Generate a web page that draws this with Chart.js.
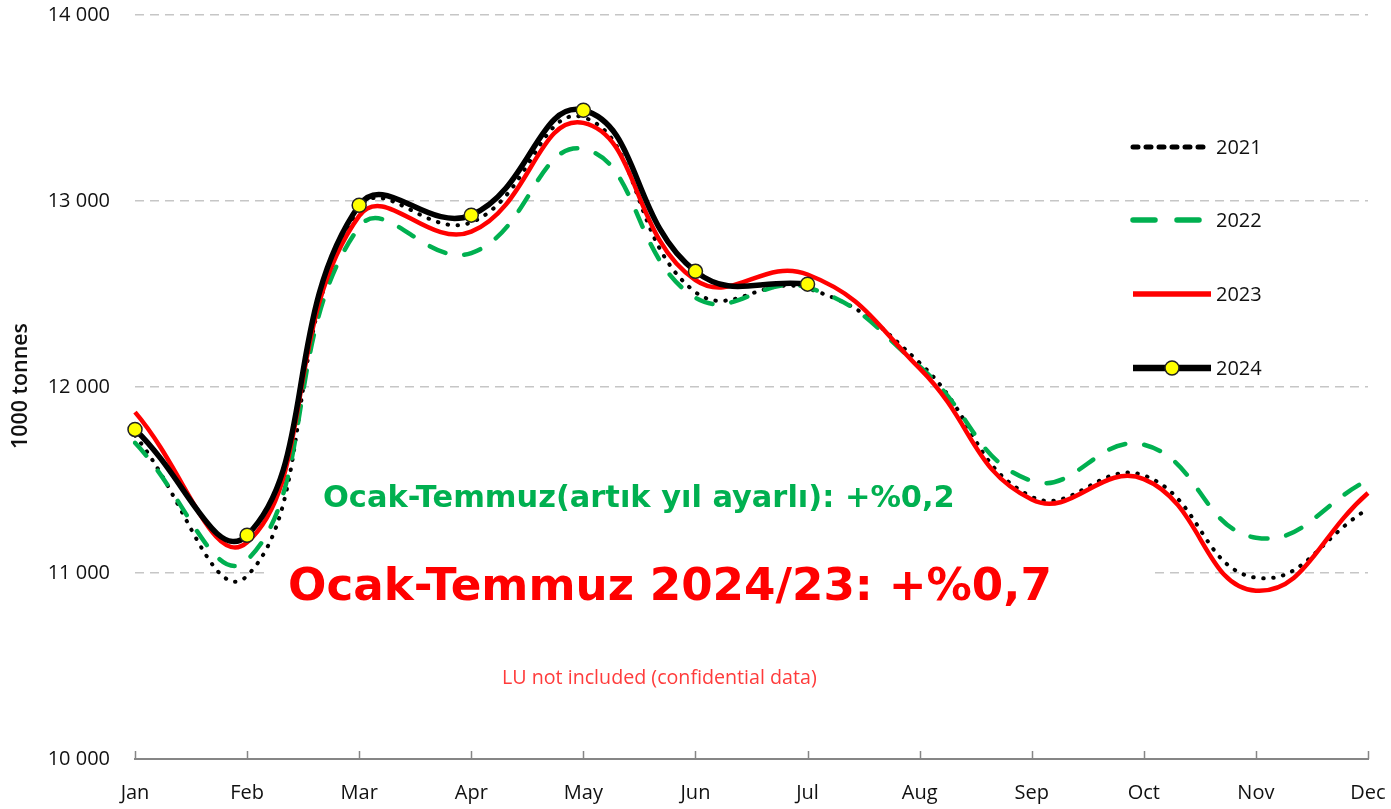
<!DOCTYPE html>
<html>
<head>
<meta charset="utf-8">
<script src="https://cdn.jsdelivr.net/npm/chart.js@4.4.1/dist/chart.umd.min.js"></script>
<style>
  html, body { margin: 0; padding: 0; background: #fff; }
  #wrap { width: 1391px; height: 809px; position: relative; }
</style>
</head>
<body>
<div id="wrap"><canvas id="chart"></canvas></div>
<script>
// Months on the x axis
const months = ['Jan', 'Feb', 'Mar', 'Apr', 'May', 'Jun', 'Jul', 'Aug', 'Sep', 'Oct', 'Nov', 'Dec'];
const years = ['2021', '2022', '2023', '2024'];

// Monthly values (1000 tonnes)
const v2021 = [11740, 10985, 12960, 12885, 13450, 12510, 12530, 12130, 11410, 11525, 10975, 11345];
const v2022 = [11700, 11070, 12860, 12720, 13280, 12480, 12535, 12110, 11495, 11690, 11190, 11500];
const v2023 = [11865, 11165, 12920, 12835, 13420, 12575, 12605, 12100, 11395, 11505, 10905, 11430];
const v2024 = [11772, 11203, 12977, 12924, 13488, 12622, 12553, null, null, null, null, null];

// Y axis
const yMin = 10000, yMax = 14000, yStep = 1000;
const yTitle = '1000 tonnes';

// Text notes
const noteGreen = 'Ocak-Temmuz(artık yıl ayarlı): +%0,2';
const noteRed = 'Ocak-Temmuz 2024/23: +%0,7';
const noteLU = 'LU not included (confidential data)';

const GREEN = '#00b050';
const RED = '#ff0000';
const tickFont = { family: 'Open Sans', size: 20 };

function fmt(v) {
    return String(v).replace(/\B(?=(\d{3})+(?!\d))/g, ' ');
}

// fit a text to a given width
function fitFont(ctx, text, weight, family, width) {
    ctx.font = weight + ' 20px ' + family;
    const w = ctx.measureText(text).width;
    return weight + ' ' + (20 * width / w).toFixed(2) + 'px ' + family;
}

const extras = {
    id: 'extras',
    beforeDatasetsDraw(chart) {
        // white box behind the big red note hides the grid line
        const ctx = chart.ctx;
        ctx.save();
        ctx.fillStyle = '#fff';
        ctx.fillRect(265, 558, 885, 52);
        ctx.restore();
    },
    afterDraw(chart) {
        const ctx = chart.ctx;
        const xs = chart.scales.x;
        const area = chart.chartArea;
        ctx.save();

        // small tick marks on the x axis (pointing up)
        ctx.strokeStyle = '#868686';
        ctx.lineWidth = 1.5;
        months.forEach((m, i) => {
            const x = Math.round(xs.getPixelForTick(i)) + 0.5;
            ctx.beginPath();
            ctx.moveTo(x, area.bottom - 8);
            ctx.lineTo(x, area.bottom);
            ctx.stroke();
        });

        // y axis title
        ctx.save();
        ctx.translate(21, 386);
        ctx.rotate(-Math.PI / 2);
        ctx.fillStyle = '#111';
        ctx.font = fitFont(ctx, yTitle, '600', '"Open Sans"', 126);
        ctx.textAlign = 'center';
        ctx.textBaseline = 'middle';
        ctx.fillText(yTitle, 0, 0);
        ctx.restore();

        // notes
        ctx.textAlign = 'left';
        ctx.textBaseline = 'alphabetic';
        ctx.fillStyle = GREEN;
        ctx.font = fitFont(ctx, noteGreen, 'bold', '"DejaVu Sans"', 632);
        ctx.fillText(noteGreen, 323, 507);
        ctx.fillStyle = RED;
        ctx.font = fitFont(ctx, noteRed, 'bold', '"DejaVu Sans"', 764);
        ctx.fillText(noteRed, 288, 600);
        ctx.fillStyle = '#ff3b3b';
        ctx.font = fitFont(ctx, noteLU, 'normal', '"Open Sans"', 315);
        ctx.fillText(noteLU, 502, 684);

        // legend
        const rows = [147, 220, 294, 368];
        const x0 = 1133, x1 = 1211;
        chart.data.datasets.forEach((ds, i) => {
            const y = rows[i];
            ctx.save();
            ctx.strokeStyle = ds.borderColor;
            ctx.lineWidth = ds.borderWidth + 1;
            ctx.lineCap = ds.borderCapStyle || 'butt';
            ctx.setLineDash(ds.legendDash || []);
            ctx.beginPath();
            ctx.moveTo(x0, y);
            ctx.lineTo(x1, y);
            ctx.stroke();
            ctx.restore();
            if (ds.pointRadius > 0) {
                ctx.beginPath();
                ctx.arc((x0 + x1) / 2, y, ds.pointRadius, 0, Math.PI * 2);
                ctx.fillStyle = ds.pointBackgroundColor;
                ctx.fill();
                ctx.lineWidth = ds.pointBorderWidth;
                ctx.strokeStyle = ds.pointBorderColor;
                ctx.stroke();
            }
            ctx.fillStyle = '#111';
            ctx.font = '20px "Open Sans"';
            ctx.textBaseline = 'middle';
            ctx.fillText(ds.label, 1216, y + 1);
        });
        ctx.restore();
    }
};

new Chart(document.getElementById('chart'), {
    type: 'line',
    data: {
        labels: months,
        datasets: [
            {
                label: years[0], data: v2021,
                borderColor: '#000', borderWidth: 4, borderDash: [0.5, 9.5], borderCapStyle: 'round',
                legendDash: [5, 8], pointRadius: 0, tension: 0.45, order: 4
            },
            {
                label: years[1], data: v2022,
                borderColor: GREEN, borderWidth: 4.5, borderDash: [17, 19], borderCapStyle: 'round',
                legendDash: [22, 22], pointRadius: 0, tension: 0.45, order: 3
            },
            {
                label: years[2], data: v2023,
                borderColor: RED, borderWidth: 4.5, pointRadius: 0, tension: 0.45, order: 2
            },
            {
                label: years[3], data: v2024,
                borderColor: '#000', borderWidth: 5.5, tension: 0.45, order: 1,
                pointRadius: 7, pointHoverRadius: 7,
                pointBackgroundColor: '#ffff00', pointBorderColor: '#222', pointBorderWidth: 1.5,
                spanGaps: false
            }
        ]
    },
    options: {
        responsive: true,
        maintainAspectRatio: false,
        animation: false,
        events: [],
        layout: { padding: { top: 15, right: 23, left: 0, bottom: 0 } },
        plugins: {
            legend: { display: false },
            tooltip: { enabled: false }
        },
        scales: {
            x: {
                offset: false,
                grid: { display: false, drawTicks: false },
                border: { display: true, color: '#868686', width: 2 },
                ticks: { color: '#111', font: tickFont, padding: 22, maxRotation: 0, autoSkip: false },
                afterFit(scale) {
                    scale.height = 50;
                    scale.paddingLeft = 0;
                    scale.paddingRight = 0;
                }
            },
            y: {
                min: yMin, max: yMax,
                grid: {
                    color: ctx => ctx.tick.value === yMin ? 'rgba(0,0,0,0)' : '#c6c6c6',
                    lineWidth: 1.5,
                    drawTicks: false
                },
                border: { display: false, dash: [9, 6] },
                ticks: {
                    stepSize: yStep, color: '#111', font: tickFont, padding: 25,
                    callback: v => fmt(v)
                },
                afterFit(scale) {
                    scale.width = 135;
                    scale.paddingTop = 0;
                    scale.paddingBottom = 0;
                }
            }
        }
    },
    plugins: [extras]
});
</script>
</body>
</html>
